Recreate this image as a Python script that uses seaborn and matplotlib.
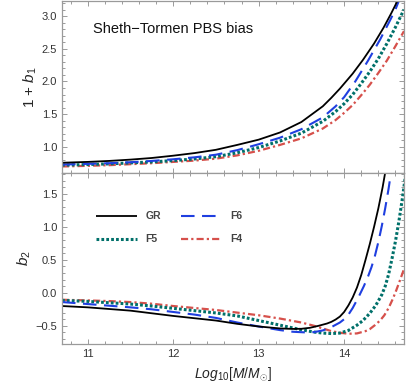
import numpy as np
import pandas as pd
import matplotlib
matplotlib.use("Agg")
import matplotlib.pyplot as plt
import seaborn as sns
from matplotlib.ticker import MultipleLocator

# ---------------- data ----------------
series = ["GR", "F6", "F5", "F4"]

# top panel: 1 + b1
gr_b1_x = [10.7, 11.0, 11.25, 11.5, 11.75, 12.0, 12.25, 12.5, 12.75, 13.0, 13.25, 13.5, 13.75,
           13.85, 13.95, 14.1, 14.22, 14.35, 14.46, 14.55, 14.65]
gr_b1_y = [0.757, 0.77, 0.785, 0.805, 0.83, 0.865, 0.905, 0.955, 1.03, 1.11, 1.22, 1.38, 1.62,
           1.75, 1.89, 2.12, 2.33, 2.58, 2.82, 3.04, 3.30]
f6_b1_x = [10.7, 11.0, 11.25, 11.5, 11.75, 12.0, 12.25, 12.5, 12.75, 13.0, 13.25, 13.5, 13.75,
           13.9, 14.0, 14.13, 14.28, 14.42, 14.535, 14.6, 14.66]
f6_b1_y = [0.73, 0.74, 0.75, 0.765, 0.785, 0.81, 0.84, 0.88, 0.95, 1.04, 1.14, 1.27, 1.45,
           1.62, 1.76, 2.00, 2.32, 2.64, 2.93, 3.10, 3.30]
f5_b1_x = [10.7, 11.0, 11.25, 11.5, 11.75, 12.0, 12.25, 12.5, 12.75, 13.0, 13.25, 13.5, 13.75,
           13.9, 14.0, 14.1, 14.2, 14.3, 14.4, 14.5, 14.6, 14.7]
f5_b1_y = [0.72, 0.73, 0.74, 0.755, 0.77, 0.79, 0.815, 0.85, 0.91, 0.99, 1.09, 1.21, 1.39,
           1.54, 1.66, 1.80, 1.97, 2.15, 2.35, 2.58, 2.83, 3.10]
f4_b1_x = [10.7, 11.0, 11.25, 11.5, 11.75, 12.0, 12.25, 12.5, 12.75, 13.0, 13.25, 13.5, 13.75,
           13.9, 14.0, 14.1, 14.2, 14.3, 14.4, 14.5, 14.6, 14.7]
f4_b1_y = [0.70, 0.71, 0.72, 0.735, 0.75, 0.77, 0.79, 0.82, 0.87, 0.94, 1.03, 1.13, 1.28,
           1.41, 1.52, 1.64, 1.79, 1.95, 2.13, 2.32, 2.54, 2.77]

# bottom panel: b2
gr_b2_x = [10.7, 11.0, 11.25, 11.5, 11.75, 12.0, 12.25, 12.5, 12.75, 13.0, 13.25, 13.4, 13.5,
           13.6, 13.7, 13.8, 13.85, 13.9, 13.95, 14.0, 14.05, 14.1, 14.15, 14.2, 14.25, 14.3,
           14.35, 14.4, 14.45, 14.5]
gr_b2_y = [-0.20, -0.22, -0.245, -0.27, -0.31, -0.35, -0.385, -0.42, -0.47, -0.51, -0.54, -0.547,
           -0.545, -0.53, -0.50, -0.465, -0.44, -0.405, -0.36, -0.29, -0.19, -0.07, 0.08, 0.27,
           0.50, 0.74, 1.00, 1.28, 1.60, 1.97]
f6_b2_x = [10.7, 11.0, 11.25, 11.5, 11.75, 12.0, 12.25, 12.5, 12.75, 13.0, 13.25, 13.4, 13.55,
           13.65, 13.75, 13.85, 13.95, 14.0, 14.05, 14.1, 14.17, 14.23, 14.28, 14.32, 14.36,
           14.4, 14.44, 14.48, 14.52, 14.56]
f6_b2_y = [-0.14, -0.17, -0.195, -0.22, -0.25, -0.29, -0.33, -0.38, -0.45, -0.51, -0.565, -0.59,
           -0.60, -0.595, -0.57, -0.52, -0.45, -0.40, -0.33, -0.23, -0.06, 0.10, 0.25, 0.39,
           0.56, 0.77, 1.01, 1.28, 1.58, 1.92]
f5_b2_x = [10.7, 11.0, 11.25, 11.5, 11.75, 12.0, 12.25, 12.5, 12.75, 13.0, 13.25, 13.5, 13.65,
           13.75, 13.85, 13.95, 14.05, 14.15, 14.22, 14.3, 14.37, 14.44, 14.48, 14.52, 14.56,
           14.6, 14.64, 14.68, 14.72]
f5_b2_y = [-0.115, -0.13, -0.15, -0.17, -0.20, -0.235, -0.27, -0.305, -0.35, -0.42, -0.49, -0.56,
           -0.595, -0.61, -0.617, -0.61, -0.57, -0.49, -0.42, -0.31, -0.19, -0.03, 0.10, 0.28,
           0.52, 0.78, 1.08, 1.42, 1.80]
f4_b2_x = [10.7, 11.0, 11.25, 11.5, 11.75, 12.0, 12.25, 12.5, 12.75, 13.0, 13.25, 13.5, 13.65,
           13.75, 13.85, 13.95, 14.05, 14.15, 14.25, 14.3, 14.36, 14.42, 14.47, 14.52, 14.57,
           14.61, 14.65, 14.7]
f4_b2_y = [-0.105, -0.115, -0.125, -0.14, -0.165, -0.20, -0.23, -0.26, -0.30, -0.34, -0.39, -0.45,
           -0.50, -0.54, -0.58, -0.605, -0.62, -0.615, -0.58, -0.55, -0.49, -0.42, -0.34, -0.23,
           -0.09, 0.04, 0.18, 0.36]

title_text = "Sheth\u2212Tormen PBS bias"
x_ticks = [11, 12, 13, 14]

# ---------------- style ----------------
sns.set_style("ticks")
plt.rcParams["font.family"] = ["Liberation Sans", "DejaVu Sans"]
plt.rcParams["mathtext.fontset"] = "custom"
plt.rcParams["mathtext.rm"] = "Liberation Sans"
plt.rcParams["mathtext.it"] = "Liberation Sans:italic"
plt.rcParams["mathtext.bf"] = "Liberation Sans:bold"

colors = {"GR": "#000000", "F6": "#1f3fe0", "F5": "#00706a", "F4": "#d6504b"}
styles = {"GR": dict(lw=1.3, linestyle="-"),
          "F6": dict(lw=1.5, linestyle=(0, (6.5, 3.6))),
          "F5": dict(lw=2.2, linestyle=(0, (0.9, 0.7))),
          "F4": dict(lw=1.6, linestyle=(0, (3.2, 1.4, 1.0, 1.4)))}

top_data = {"GR": (gr_b1_x, gr_b1_y), "F6": (f6_b1_x, f6_b1_y),
            "F5": (f5_b1_x, f5_b1_y), "F4": (f4_b1_x, f4_b1_y)}
bot_data = {"GR": (gr_b2_x, gr_b2_y), "F6": (f6_b2_x, f6_b2_y),
            "F5": (f5_b2_x, f5_b2_y), "F4": (f4_b2_x, f4_b2_y)}

fig = plt.figure(figsize=(4.15, 3.87), dpi=100)
L, R = 62 / 415, 404 / 415
B, M, T = 1 - 344.3 / 387, 1 - 172.7 / 387, 1 - 1.0 / 387
ax1 = fig.add_axes([L, M, R - L, T - M])
ax2 = fig.add_axes([L, B, R - L, M - B], sharex=ax1)

order = ["F4", "F5", "F6", "GR"]
for ax, data in ((ax1, top_data), (ax2, bot_data)):
    for name in order:
        xs, ys = data[name]
        df = pd.DataFrame({"x": xs, "y": ys})
        sns.lineplot(data=df, x="x", y="y", ax=ax, color=colors[name],
                     label=name, legend=False, sort=False,
                     solid_capstyle="butt", dash_capstyle="butt",
                     solid_joinstyle="round", **styles[name])

ax1.set_xlim(10.7, 14.7)
ax1.set_ylim(0.605, 3.23)
ax2.set_ylim(-0.78, 1.82)

gray = "#9a9a9a"
for ax in (ax1, ax2):
    for s in ax.spines.values():
        s.set_color(gray)
        s.set_linewidth(0.9)
    ax.xaxis.set_major_locator(MultipleLocator(1))
    ax.xaxis.set_minor_locator(MultipleLocator(0.2))
    ax.yaxis.set_major_locator(MultipleLocator(0.5))
    ax.yaxis.set_minor_locator(MultipleLocator(0.1))
    ax.tick_params(which="both", direction="in", top=True, right=True,
                   color=gray, labelcolor="#333333", labelsize=8, width=0.7)
    ax.tick_params(which="major", length=3.8, pad=3.5)
    ax.tick_params(which="minor", length=2.0)
    ax.set_xlabel("")
    ax.set_ylabel("")

ax1.tick_params(labelbottom=False)
ax1.set_yticks([1.0, 1.5, 2.0, 2.5, 3.0])
ax2.set_yticks([-0.5, 0.0, 0.5, 1.0, 1.5])
ax2.set_xticks(x_ticks)
ax2.set_xticklabels([str(v) for v in x_ticks])

ax1.set_ylabel("1 + $b_1$", fontsize=11, labelpad=2)
ax2.set_ylabel("$b_2$", fontsize=11, labelpad=2)
ax2.set_xlabel(r"$\mathit{Log}_{\mathit{10}}[\mathit{M/M}_{\odot}]$", fontsize=10, labelpad=4)

ax1.text(0.092, 0.835, title_text, transform=ax1.transAxes, fontsize=10.5,
         color="#111111", ha="left", va="center")

handles = {ln.get_label(): ln for ln in ax2.get_lines()}
leg_order = ["GR", "F5", "F6", "F4"]
leg = ax2.legend([handles[k] for k in leg_order], leg_order, ncol=2,
                 loc="upper left", bbox_to_anchor=(0.10, 0.775), frameon=False,
                 fontsize=7.5, handlelength=3.9, handletextpad=0.8,
                 columnspacing=2.0, labelspacing=1.25, borderpad=0, borderaxespad=0)
for t in leg.get_texts():
    t.set_color("#444444")
    t.set_fontweight("bold")

fig.savefig("out.png", dpi=100)
